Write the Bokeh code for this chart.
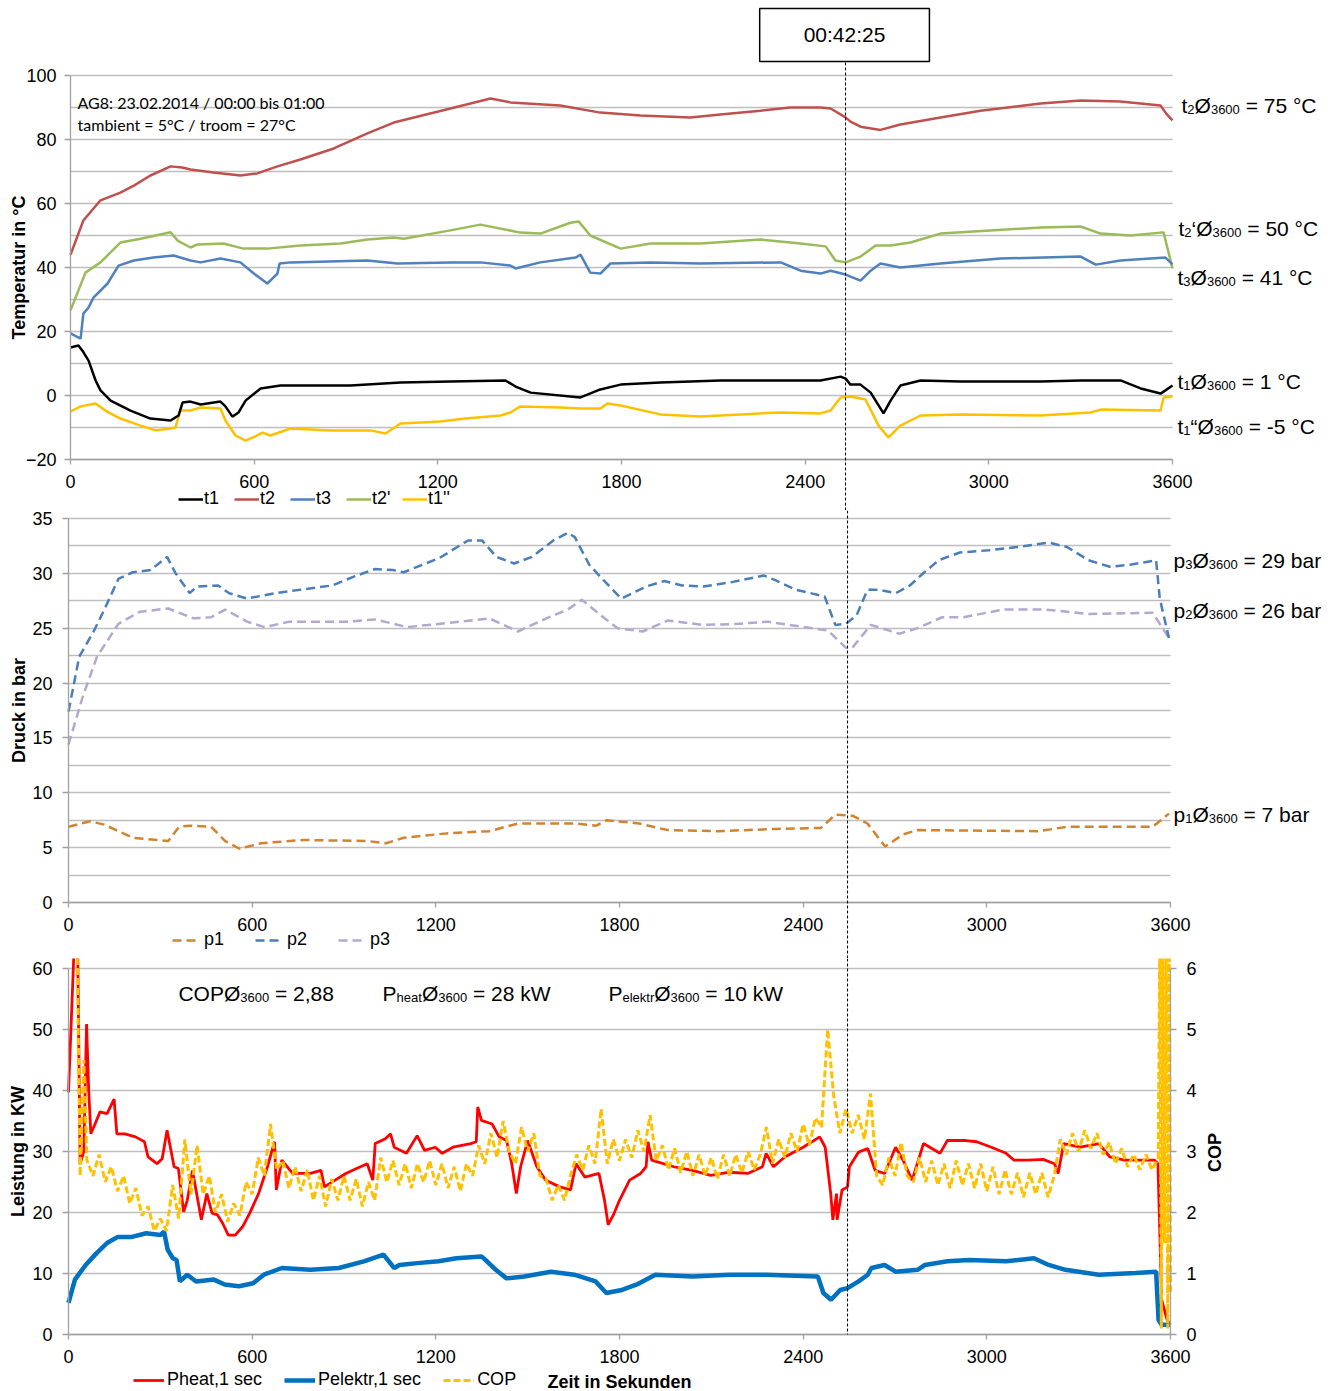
import math
from bokeh.plotting import figure
from bokeh.models import (FixedTicker, Legend, LegendItem, Label, Arrow, LinearAxis, Range1d, Span)
from bokeh.layouts import column
from bokeh.embed import file_html
from bokeh.resources import INLINE

FONT = "Liberation Sans"
GRID = "#BEBEBE"
AXIS = "#A0A0A0"

# ---------------- data ----------------
time_ticks = [0, 600, 1200, 1800, 2400, 3000, 3600]
temp_ticks = [-20, 0, 20, 40, 60, 80, 100]
temp_minor = [-10, 10, 30, 50, 70, 90]
press_ticks = [0, 5, 10, 15, 20, 25, 30, 35]
press_minor = [2.5, 7.5, 12.5, 17.5, 22.5, 27.5, 32.5]
power_ticks = [0, 10, 20, 30, 40, 50, 60]
cop_ticks = [0, 1, 2, 3, 4, 5, 6]
marker_time = 2545  # 00:42:25

# temperatures (time s, value °C)
t1_points = [(0, 15), (26, 15.6), (39, 14), (59, 10.9), (82, 4.7), (98, 1.6), (131, -1.6), (196, -4.7),
             (261, -7.2), (327, -7.8), (353, -6.25), (366, -2.2), (392, -1.9), (425, -2.8), (490, -1.9),
             (506, -3.4), (529, -6.6), (549, -5.3), (572, -1.6), (621, 2.2), (686, 3.1), (915, 3.1),
             (1078, 4.1), (1241, 4.4), (1421, 4.7), (1454, 2.8), (1503, 0.9), (1666, -0.6), (1731, 1.9),
             (1797, 3.4), (1927, 4.1), (2123, 4.7), (2320, 4.7), (2450, 4.7), (2516, 5.9), (2532, 5.3),
             (2548, 3.4), (2581, 3.4), (2614, 0.9), (2656, -5.6), (2679, -1.6), (2711, 3.1), (2777, 4.7),
             (2907, 4.4), (3169, 4.4), (3300, 4.7), (3430, 4.7), (3496, 2.2), (3561, 0.6), (3577, 1.6),
             (3600, 3.1)]
t2_points = [(0, 44), (42, 54.7), (98, 61), (163, 63.4), (207, 65.6), (261, 68.75), (327, 71.6), (365, 71.25),
             (392, 70.6), (467, 69.7), (555, 68.75), (610, 69.4), (676, 71.6), (751, 73.75), (860, 77.2),
             (970, 81.9), (1056, 85.3), (1241, 89.7), (1372, 92.8), (1437, 91.6), (1600, 90.6), (1731, 88.4),
             (1862, 87.5), (2025, 86.9), (2123, 87.8), (2254, 89), (2352, 90), (2450, 90), (2483, 89.7),
             (2532, 86.9), (2548, 85.6), (2581, 84), (2646, 83), (2711, 84.7), (2842, 86.9), (2973, 89),
             (3169, 91.25), (3300, 92.2), (3430, 91.9), (3561, 90.6), (3580, 88), (3600, 86)]
t3_points = [(0, 19.4), (33, 17.8), (42, 25.6), (59, 27.5), (75, 30.6), (121, 35), (157, 40.6), (207, 42.2),
             (271, 43.1), (337, 43.75), (392, 42.2), (425, 41.6), (490, 42.8), (555, 41.6), (599, 38.1),
             (643, 35), (676, 38.1), (683, 41.25), (719, 41.6), (970, 42.2), (1068, 41.25), (1241, 41.6),
             (1339, 41.6), (1437, 40.6), (1454, 39.7), (1535, 41.6), (1650, 43.1), (1666, 44), (1698, 38.4),
             (1731, 38.1), (1764, 41.25), (1895, 41.6), (2058, 41.25), (2320, 41.6), (2385, 39), (2450, 38.1),
             (2483, 39), (2532, 37.8), (2581, 35.9), (2614, 39), (2646, 41.25), (2711, 40), (2842, 41.25),
             (3038, 42.8), (3300, 43.4), (3349, 40.9), (3430, 42.2), (3577, 43.1), (3600, 41)]
t2s_points = [(0, 26.6), (49, 38.4), (98, 41.6), (163, 47.8), (229, 49), (327, 51), (350, 48.4), (392, 46.25),
              (415, 47.2), (500, 47.5), (565, 45.9), (643, 45.9), (751, 46.9), (882, 47.5), (970, 48.75),
              (1056, 49.4), (1089, 49), (1241, 51.6), (1339, 53.4), (1470, 50.9), (1535, 50.6), (1633, 54),
              (1660, 54.4), (1698, 50), (1797, 45.9), (1895, 47.5), (2058, 47.5), (2254, 48.75), (2385, 47.5),
              (2467, 46.6), (2499, 42.2), (2532, 41.6), (2581, 43.4), (2630, 46.9), (2679, 46.9), (2744, 47.8),
              (2842, 50.6), (3005, 51.6), (3169, 52.5), (3300, 52.8), (3365, 50.6), (3463, 50), (3561, 50.9),
              (3571, 50.9), (3600, 39.7)]
t1s_points = [(0, -5), (33, -3.4), (82, -2.5), (114, -4.7), (163, -7.2), (229, -9.4), (278, -10.9), (327, -10.3),
              (343, -10), (359, -4.7), (392, -4.7), (425, -3.75), (490, -4.1), (506, -7.8), (539, -12.5),
              (572, -14.1), (604, -12.8), (627, -11.6), (653, -12.5), (719, -10.3), (849, -10.9), (980, -10.9),
              (1029, -11.9), (1078, -8.75), (1209, -8.1), (1290, -7.2), (1405, -6.25), (1437, -5.3), (1470, -3.4),
              (1600, -3.75), (1666, -4.1), (1731, -4.1), (1754, -2.5), (1797, -3.1), (1927, -5.9), (2058, -6.6),
              (2189, -5.9), (2320, -5.3), (2450, -5.6), (2483, -4.7), (2516, -0.6), (2548, -0.3), (2597, -1.25),
              (2640, -9.4), (2672, -13.1), (2711, -9.4), (2777, -6.25), (2907, -5.9), (3169, -6.25), (3332, -5.3),
              (3365, -4.4), (3561, -4.7), (3571, -0.6), (3600, -0.3)]

# pressures (time s, bar)
p1_points = [(0, 6.9), (70, 7.4), (117, 7.1), (210, 5.9), (326, 5.6), (361, 6.9), (396, 7.0), (466, 6.9),
             (512, 5.6), (559, 4.9), (629, 5.4), (769, 5.7), (978, 5.6), (1037, 5.4), (1095, 5.9), (1235, 6.3),
             (1375, 6.5), (1468, 7.2), (1654, 7.2), (1724, 7.0), (1759, 7.5), (1864, 7.2), (1957, 6.6),
             (2120, 6.5), (2307, 6.7), (2458, 6.8), (2505, 8.0), (2563, 7.9), (2610, 7.2), (2668, 5.1),
             (2726, 6.2), (2773, 6.6), (3169, 6.5), (3262, 6.9), (3542, 6.9), (3595, 8.1)]
p2_points = [(0, 17.4), (35, 22.4), (82, 24.7), (117, 26.7), (163, 29.5), (210, 30.1), (268, 30.3), (322, 31.5),
             (350, 30), (396, 28.2), (419, 28.8), (489, 28.9), (524, 28.2), (583, 27.7), (676, 28.2), (862, 28.9),
             (932, 29.7), (1002, 30.4), (1060, 30.3), (1095, 30.1), (1212, 31.4), (1305, 33.0), (1351, 33.0),
             (1398, 31.5), (1456, 30.9), (1514, 31.5), (1584, 33.0), (1631, 33.7), (1654, 33.3), (1701, 30.8),
             (1747, 29.4), (1806, 27.7), (1887, 28.8), (1946, 29.3), (2004, 28.9), (2074, 28.8), (2167, 29.2),
             (2272, 29.8), (2307, 29.4), (2377, 28.5), (2470, 27.9), (2505, 25.3), (2540, 25.4), (2575, 26.2),
             (2610, 28.5), (2645, 28.5), (2703, 28.2), (2749, 28.9), (2796, 30.1), (2843, 31.2), (2912, 31.9),
             (3006, 32.1), (3099, 32.4), (3204, 32.8), (3262, 32.4), (3332, 31.2), (3402, 30.6), (3472, 30.8),
             (3553, 31.2), (3565, 27.7), (3595, 24.1)]
p3_points = [(0, 14.4), (47, 18.8), (93, 22.4), (163, 25.4), (233, 26.5), (326, 26.8), (408, 25.9), (466, 26.0),
             (512, 26.7), (583, 25.6), (641, 25.1), (722, 25.6), (909, 25.6), (1002, 25.8), (1107, 25.1),
             (1281, 25.6), (1375, 25.9), (1468, 24.7), (1561, 25.9), (1631, 26.7), (1677, 27.6), (1747, 26.0),
             (1794, 25.0), (1876, 24.7), (1957, 25.7), (2074, 25.3), (2190, 25.4), (2283, 25.6), (2353, 25.3),
             (2481, 24.8), (2540, 23.2), (2563, 23.3), (2621, 25.3), (2714, 24.5), (2773, 25.0), (2854, 26.0),
             (2924, 26.0), (3052, 26.7), (3192, 26.7), (3332, 26.3), (3542, 26.4), (3595, 24.1)]

# power (time s, kW)
pheat_points = [(0, 39.7), (18, 63), (30, 63), (38, 28), (50, 30), (59, 50.9), (66, 40), (73, 32.9), (85, 34.3),
                (103, 36.5), (126, 36.2), (149, 38.6), (158, 32.9), (184, 32.9), (219, 32.4), (248, 31.6),
                (260, 29.1), (289, 28), (306, 28.8), (322, 33.5), (345, 27.5), (359, 27.2), (376, 20.1),
                (388, 22), (405, 26.9), (434, 18.8), (452, 23.1), (469, 19.9), (487, 19.6), (504, 18.2),
                (522, 16.3), (545, 16.3), (569, 17.7), (592, 19.9), (621, 23.1), (650, 27.5), (673, 31.6),
                (679, 23.7), (697, 28.6), (732, 26.4), (790, 26.4), (825, 26.9), (836, 24.2), (871, 25.3),
                (906, 26.4), (941, 27.2), (976, 28), (994, 25.3), (1002, 31.3), (1035, 32.1), (1052, 32.9),
                (1064, 30.7), (1104, 29.7), (1139, 32.6), (1163, 30.2), (1198, 30.7), (1221, 29.7), (1256, 30.7),
                (1314, 31.3), (1332, 31.6), (1337, 37.3), (1349, 35.1), (1384, 34.5), (1407, 32.4), (1431, 31.8),
                (1448, 28), (1463, 23.1), (1477, 27.5), (1500, 31.8), (1530, 27.5), (1559, 25.3), (1605, 24.2),
                (1640, 23.7), (1658, 28), (1687, 25.8), (1733, 26.4), (1751, 22), (1763, 18), (1780, 19.6),
                (1800, 22), (1833, 25.3), (1869, 26.4), (1887, 27.5), (1893, 31.6), (1905, 28.6), (1977, 27.5),
                (2038, 26.9), (2098, 26.1), (2159, 26.6), (2219, 26.4), (2267, 27.5), (2279, 29.7), (2303, 27.5),
                (2340, 29.1), (2400, 30.7), (2454, 32.4), (2472, 30.7), (2490, 23.1), (2497, 18.8), (2509, 23.1),
                (2511, 18.8), (2527, 23.7), (2545, 24.2), (2551, 27.5), (2581, 29.9), (2611, 30.5), (2635, 26.9),
                (2666, 26.4), (2702, 30.7), (2726, 28.6), (2756, 25.3), (2793, 31.3), (2847, 29.7), (2871, 31.8),
                (2932, 31.8), (2967, 31.6), (3015, 30.7), (3063, 29.7), (3088, 28.6), (3136, 28.6), (3184, 28.7),
                (3221, 28), (3233, 26.4), (3251, 31.3), (3305, 30.7), (3366, 31.3), (3402, 29.1), (3450, 28.6),
                (3547, 28.6), (3559, 28), (3571, 5.7), (3589, 2.4), (3600, 1.6)]
pelektr_points = [(0, 5.2), (21, 9), (56, 11.4), (91, 13.3), (126, 15), (161, 16), (207, 16), (254, 16.6),
                  (301, 16.3), (312, 16.9), (324, 13.9), (341, 12.5), (353, 12.2), (364, 8.7), (388, 9.8),
                  (417, 8.7), (475, 9), (510, 8.2), (557, 7.9), (603, 8.4), (638, 9.8), (697, 10.9), (790, 10.6),
                  (883, 10.9), (965, 12), (1029, 13.1), (1064, 10.9), (1081, 11.4), (1139, 11.7), (1209, 12),
                  (1267, 12.5), (1349, 12.8), (1367, 12), (1396, 10.6), (1431, 9.2), (1489, 9.5), (1576, 10.3),
                  (1652, 9.8), (1722, 8.7), (1757, 6.8), (1808, 7.3), (1857, 8.2), (1917, 9.8), (2038, 9.5),
                  (2159, 9.8), (2279, 9.8), (2448, 9.5), (2466, 6.8), (2491, 5.7), (2521, 7.3), (2545, 7.6),
                  (2581, 8.7), (2611, 9.8), (2623, 10.9), (2666, 11.4), (2702, 10.3), (2774, 10.6), (2798, 11.4),
                  (2871, 12), (2943, 12.2), (3063, 12), (3154, 12.5), (3202, 11.4), (3257, 10.6), (3366, 9.8),
                  (3486, 10.1), (3553, 10.3), (3561, 2.4), (3571, 1.6), (3600, 1.6)]

# COP (right axis): start spikes, 20 s readings of the noisy band, end spikes
cop_start = [(28, 6.5), (38, 2.6), (50, 4.5)]
cop_times = list(range(60, 3561, 20))
cop_values = [2.86, 2.6,
              2.95, 2.5, 2.75, 2.35, 2.6, 2.15, 2.4, 1.95, 2.1, 1.7,
              1.9, 1.7, 2.45, 1.9, 3.2, 2.3, 3.1, 2.3, 2.6, 2.0,
              2.3, 1.85, 2.15, 1.95, 2.5, 2.3, 2.9, 2.6, 3.45, 2.7,
              2.85, 2.4, 2.75, 2.35, 2.7, 2.2, 2.6, 2.1, 2.55, 2.2,
              2.6, 2.2, 2.55, 2.1, 2.5, 2.2, 2.9, 2.5, 2.85, 2.45,
              2.8, 2.4, 2.8, 2.5, 2.85, 2.45, 2.8, 2.4, 2.75, 2.35,
              2.8, 2.6, 3.1, 2.8, 3.3, 2.9, 3.5, 3.0, 2.8, 3.4,
              3.0, 3.3, 2.6, 2.55, 2.2, 2.45, 2.2, 2.6, 2.95, 2.7,
              3.1, 2.8, 3.7, 2.8, 3.2, 2.85, 3.2, 2.9, 3.35, 3.0,
              3.6, 2.85, 3.1, 2.7, 3.05, 2.65, 3.0, 2.6, 2.95, 2.6,
              2.9, 2.55, 2.95, 2.6, 2.95, 2.65, 3.0, 2.7, 2.95, 3.4,
              2.8, 3.2, 2.9, 3.3, 3.0, 3.45, 3.1, 3.55, 3.4, 5.0,
              3.9, 3.3, 3.7, 3.3, 3.6, 3.2, 3.95, 2.6, 2.45, 2.9,
              2.6, 3.15, 2.6, 2.5, 2.9, 2.5, 2.85, 2.45, 2.8, 2.4,
              2.85, 2.45, 2.8, 2.4, 2.8, 2.35, 2.75, 2.3, 2.7, 2.3,
              2.65, 2.25, 2.65, 2.3, 2.65, 2.25, 2.6, 3.2, 2.95, 3.3,
              3.0, 3.35, 3.05, 3.3, 2.95, 3.15, 2.8, 3.05, 2.75, 2.95,
              2.7, 2.95, 2.7, 2.9]
cop_end = [(3565, 6.5), (3570, 0.1), (3575, 6.5), (3580, 1.5), (3586, 6.5), (3591, 0.1), (3596, 6.5), (3600, 0.7)]
assert len(cop_times) == len(cop_values)

# ---------------- layout constants (pixels) ----------------
W = 1340
S = 1102 / 3600.0          # px per second


# ---------------- helpers ----------------
WID = {' ': 278, '=': 584, '°': 400, 'C': 722, 'O': 778, 'P': 667, 'Ø': 778, 't': 278, 'p': 556, 'b': 556,
       'a': 556, 'r': 333, 'k': 500, 'W': 944, 'h': 556, 'e': 556, 'l': 222, ',': 278, '-': 333,
       '‘': 222, '“': 333}


def tw(s, size):
    return sum(WID.get(c, 556) for c in s) * size / 1000.0


def rich(p, x, y, parts, x_off=0.0, size=21, sub=13, drop=4, lift=8):
    off = x_off
    for txt, is_sub in parts:
        fs = sub if is_sub else size
        lead = len(txt) - len(txt.lstrip(' '))
        off += tw(' ' * lead, fs)
        txt = txt.lstrip(' ')
        p.add_layout(Label(x=x, y=y, x_offset=off, y_offset=lift - (drop if is_sub else 0), text=txt,
                           text_font=FONT, text_font_size=f"{fs}px", text_baseline="alphabetic",
                           text_align="left", text_color="black"))
        off += tw(txt, fs)


def xy(points):
    return [a for a, _ in points], [b for _, b in points]


def style_axis(ax, tick_out, standoff):
    ax.axis_line_color = AXIS
    ax.axis_line_width = 1.3
    ax.major_tick_line_color = AXIS
    ax.major_tick_line_width = 1.3
    ax.minor_tick_line_color = None
    ax.major_tick_in = 0
    ax.major_tick_out = tick_out
    ax.major_label_standoff = standoff
    ax.major_label_text_font = FONT
    ax.major_label_text_font_size = "18px"
    ax.major_label_text_color = "black"
    ax.axis_label_text_font = FONT
    ax.axis_label_text_font_size = "18px"
    ax.axis_label_text_font_style = "bold"
    ax.axis_label_text_color = "black"


def make_fig(h, x_left, frame_top, frame_bottom, ylo, yhi, yticks, yminor, ylabel,
             ylab_standoff, ytick_standoff):
    ppu = (frame_bottom - frame_top) / float(yhi - ylo)
    xr = Range1d(-x_left / S, 3600 + (W - x_left - 1102) / S)
    yr = Range1d(ylo - (h - frame_bottom) / ppu, yhi + frame_top / ppu)
    p = figure(width=W, height=h, x_range=xr, y_range=yr, title=None,
               output_backend="svg", toolbar_location=None, min_border=0)
    p.outline_line_color = None
    p.background_fill_color = "white"
    p.border_fill_color = "white"
    p.xgrid.grid_line_color = None
    p.ygrid.grid_line_color = GRID
    p.ygrid.grid_line_width = 1.3
    p.ygrid.cross_bounds = (0, 3600)
    if yminor:
        p.ygrid.minor_grid_line_color = GRID
        p.ygrid.minor_grid_line_width = 1.3
    p.xaxis.ticker = FixedTicker(ticks=time_ticks)
    p.yaxis.ticker = FixedTicker(ticks=yticks, minor_ticks=yminor)
    p.xaxis.fixed_location = ylo
    p.xaxis.bounds = (0, 3600)
    p.yaxis.fixed_location = 0
    p.yaxis.bounds = (ylo, yhi)
    for ax in p.xaxis:
        style_axis(ax, 5, 10)
    for ax in p.yaxis:
        style_axis(ax, 6, ytick_standoff)
    p.yaxis.axis_label = ylabel
    p.yaxis.axis_label_standoff = ylab_standoff
    return p, ppu


def legend(items, loc, gw, spacing, standoff):
    return Legend(items=items, orientation="horizontal", location=loc, glyph_width=gw, glyph_height=20,
                  label_standoff=standoff, spacing=spacing, padding=0, margin=0, border_line_color=None,
                  background_fill_alpha=0, label_text_font=FONT, label_text_font_size="18px",
                  label_height=20, label_text_baseline="middle", label_text_color="black")


# ---------------- top: temperatures ----------------
p1, _ = make_fig(510, 70, 75, 459, -20, 100, temp_ticks, temp_minor, "Temperatur in °C", -6, 8)
r_t2s = p1.line(*xy(t2s_points), line_color="#9BBB59", line_width=2.5)
r_t3 = p1.line(*xy(t3_points), line_color="#4F81BD", line_width=2.5)
r_t2 = p1.line(*xy(t2_points), line_color="#C0504D", line_width=2.5)
r_t1s = p1.line(*xy(t1s_points), line_color="#FFC000", line_width=2.5)
r_t1 = p1.line(*xy(t1_points), line_color="black", line_width=2.5)
p1.add_layout(legend([LegendItem(label="t1", renderers=[r_t1]), LegendItem(label="t2", renderers=[r_t2]),
                      LegendItem(label="t3", renderers=[r_t3]), LegendItem(label="t2'", renderers=[r_t2s]),
                      LegendItem(label="t1''", renderers=[r_t1s])], (178, 1), 25, 10, 1))
p1.add_layout(Label(x=23, y=89.7, y_offset=6, text="AG8: 23.02.2014 / 00:00 bis 01:00", text_font="Lato",
                    text_font_size="16px", text_baseline="alphabetic", text_color="black"))
p1.add_layout(Label(x=23, y=82.8, y_offset=6, text="tambient = 5°C / troom = 27°C", text_font="Lato",
                    text_font_size="16px", text_baseline="alphabetic", text_color="black"))
rich(p1, 3600, 88.28, [("t", 0), ("2", 1), ("Ø", 0), ("3600", 1), (" = 75 °C", 0)], 9)
rich(p1, 3600, 49.84, [("t", 0), ("2", 1), ("‘Ø", 0), ("3600", 1), (" = 50 °C", 0)], 6)
rich(p1, 3600, 34.22, [("t", 0), ("3", 1), ("Ø", 0), ("3600", 1), (" = 41 °C", 0)], 5)
rich(p1, 3600, 2.03, [("t", 0), ("1", 1), ("Ø", 0), ("3600", 1), (" = 1 °C", 0)], 5)
rich(p1, 3600, -12.34, [("t", 0), ("1", 1), ("“Ø", 0), ("3600", 1), (" = -5 °C", 0)], 5)
top_marker = marker_time - 4 / S   # the top panel's guide sits 4 px left in the reference
p1.add_layout(Arrow(end=None, x_start=top_marker, y_start=104.06, x_end=top_marker, y_end=-40,
                    line_dash="3 2", line_color="black", line_width=1))
p1.add_layout(Label(x=top_marker, y=112.66, x_offset=-1, text="00:42:25", text_align="center",
                    text_baseline="middle", text_font=FONT, text_font_size="21px", text_color="black",
                    border_line_color="black", border_line_width=1.5,
                    background_fill_color="white", padding=(44, 15)))

# ---------------- middle: pressures ----------------
p2, _ = make_fig(448, 68, 8, 392, 0, 35, press_ticks, press_minor, "Druck in bar", 0, 10)
r_p3 = p2.line(*xy(p3_points), line_color="#B3A8CF", line_width=2.5, line_dash="9 5")
r_p2 = p2.line(*xy(p2_points), line_color="#4A7EBB", line_width=2.5, line_dash="9 5")
r_p1 = p2.line(*xy(p1_points), line_color="#D3822E", line_width=2.5, line_dash="9 5")
p2.add_layout(legend([LegendItem(label="p1", renderers=[r_p1]), LegendItem(label="p2", renderers=[r_p2]),
                      LegendItem(label="p3", renderers=[r_p3])], (172, 8), 28, 31, 4))
rich(p2, 3600, 30.40, [("p", 0), ("3", 1), ("Ø", 0), ("3600", 1), (" = 29 bar", 0)], 3)
rich(p2, 3600, 25.93, [("p", 0), ("2", 1), ("Ø", 0), ("3600", 1), (" = 26 bar", 0)], 3)
rich(p2, 3600, 7.25, [("p", 0), ("1", 1), ("Ø", 0), ("3600", 1), (" = 7 bar", 0)], 3)
p2.add_layout(Span(location=marker_time, dimension="height", line_dash="3 2", line_color="black",
                   line_width=1))

# ---------------- bottom: power / COP ----------------
p3, ppu3 = make_fig(433, 68, 10, 376, 0, 60, power_ticks, [], "Leistung in KW", 1, 10)
y3 = p3.y_range
p3.extra_y_ranges = {"cop": Range1d(y3.start / 10.0, y3.end / 10.0)}
cop_axis = LinearAxis(y_range_name="cop", ticker=FixedTicker(ticks=cop_ticks), fixed_location=3600,
                      bounds=(0, 6))
p3.add_layout(cop_axis, "right")
style_axis(cop_axis, 6, 10)
p3.xaxis.axis_label = "Zeit in Sekunden"
p3.xaxis.axis_label_standoff = 6
cop_x = [a for a, _ in cop_start] + cop_times + [a for a, _ in cop_end]
cop_y = [b for _, b in cop_start] + cop_values + [b for _, b in cop_end]
r_cop = p3.line(cop_x, cop_y, y_range_name="cop", line_color="#FFC000", line_width=3, line_dash="7 3")
r_ph = p3.line(*xy(pheat_points), line_color="#FF0000", line_width=2.8)
r_pe = p3.line(*xy(pelektr_points), line_color="#0070C0", line_width=4.5)
p3.renderers.remove(r_cop)
p3.renderers.append(r_cop)
p3.add_layout(legend([LegendItem(label="Pheat,1 sec", renderers=[r_ph]),
                      LegendItem(label="Pelektr,1 sec", renderers=[r_pe]),
                      LegendItem(label="COP", renderers=[r_cop])], (133, 1), 31, 22, 3))
rich(p3, 359, 54.67, [("COPØ", 0), ("3600", 1), (" = 2,88", 0)], 0)
rich(p3, 1026, 54.67, [("P", 0), ("heat", 1), ("Ø", 0), ("3600", 1), (" = 28 kW", 0)], 0)
rich(p3, 1764, 54.67, [("P", 0), ("elektr", 1), ("Ø", 0), ("3600", 1), (" = 10 kW", 0)], 0)
p3.add_layout(Label(x=3600 + 44 / S, y=29.84, text="COP", angle=math.pi / 2, text_align="center",
                    text_baseline="middle", text_font=FONT, text_font_size="18px", text_font_style="bold",
                    text_color="black"))
p3.add_layout(Arrow(end=None, x_start=marker_time, y_start=y3.end, x_end=marker_time, y_end=0,
                    line_dash="3 2", line_color="black", line_width=1))

layout = column(p1, p2, p3, spacing=0)
open("out.html", "w").write(file_html(layout, INLINE))
